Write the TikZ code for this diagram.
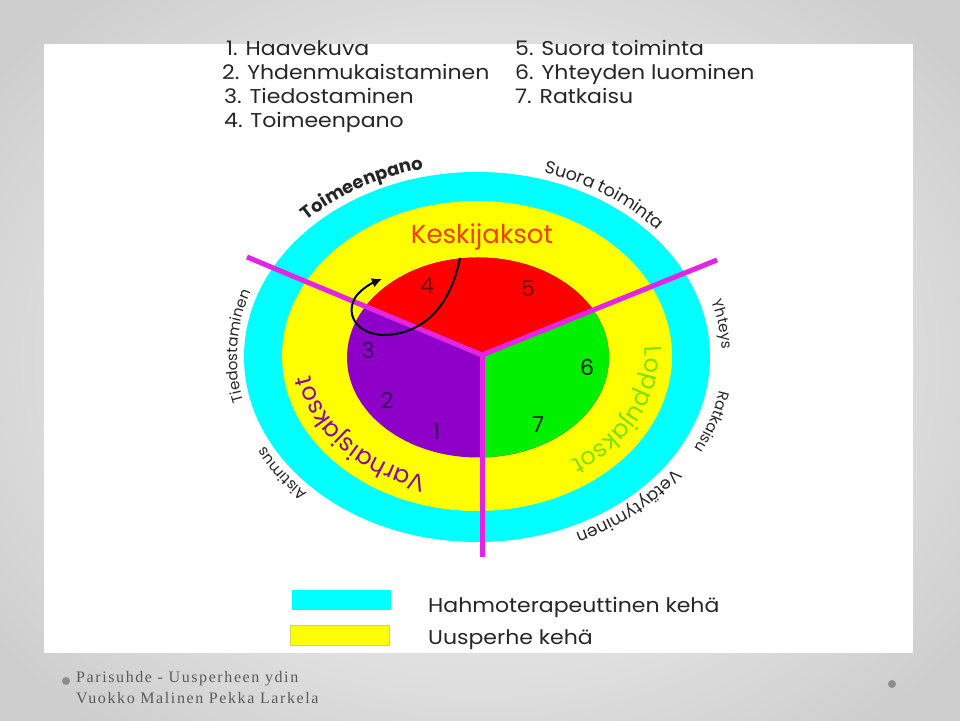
\documentclass[tikz,border=0pt]{standalone}
\usepackage{fontspec}
\setmainfont{Poppins}
\newfontfamily\widefont{Poppins}[FakeStretch=1.1]
\newfontfamily\footfont{Liberation Serif}[LetterSpace=10]
\usetikzlibrary{decorations.text,arrows.meta}
\definecolor{cy}{HTML}{00FFFF}
\definecolor{ye}{HTML}{FFFF00}
\definecolor{rd}{HTML}{FF0000}
\definecolor{pu}{HTML}{8E00C8}
\definecolor{gr}{HTML}{00F000}
\definecolor{mg}{HTML}{E424E4}
\definecolor{txt}{HTML}{262626}
\definecolor{kesk}{HTML}{F0400C}
\definecolor{varh}{HTML}{8A0A9A}
\definecolor{lopp}{HTML}{80E000}
\definecolor{bggray}{HTML}{CECECE}
\definecolor{foot}{HTML}{5A5A5A}
\definecolor{dotgray}{HTML}{8C8C8C}
\definecolor{numred}{HTML}{7A0808}
\definecolor{numpu}{HTML}{3A0A5A}
\definecolor{numgr}{HTML}{0A200A}
\begin{document}
\begin{tikzpicture}[x=1pt,y=1pt,
  listitem/.style={anchor=base west,inner sep=0pt,text=txt,font=\widefont\fontsize{20}{20}\selectfont},
  numlab/.style={inner sep=0pt,font=\fontsize{22}{22}\selectfont},
  spoke/.style={draw=mg,line width=5pt,line join=round},
  legbox/.style={minimum width=99pt,minimum height=20pt,inner sep=0pt,anchor=south west},
  legtext/.style={anchor=base west,inner sep=0pt,text=txt,font=\widefont\fontsize{20}{20}\selectfont},
  outerlab/.style 2 args={decorate,decoration={text along path,text align=center,text color=txt,
     text={|\fontsize{#1}{#1}\selectfont|#2}}},
  outerbold/.style 2 args={decorate,decoration={text along path,text align=center,text color=txt,
     text={|\bfseries\fontsize{#1}{#1}\selectfont|#2}}},
  innerlab/.style 2 args={decorate,decoration={text along path,text align=center,text color=#1,
     text={|\fontsize{24}{24}\selectfont|#2}}},
  footline/.style={anchor=base west,inner sep=0pt,text=foot,font=\footfont\fontsize{16}{16}\selectfont}
]
\useasboundingbox (0,0) rectangle (960,720);
% slide background
\shade[inner color=white,outer color=bggray] (-120,-120) rectangle (1080,840);
\fill[white] (44,67) rectangle (913,676);

% top list
\node[listitem] (l1) at (226,664) {1. Haavekuva};
\node[listitem] (l2) at (222,640) {2. Yhdenmukaistaminen};
\node[listitem] (l3) at (224,616) {3. Tiedostaminen};
\node[listitem] (l4) at (224,592) {4. Toimeenpano};
\node[listitem] (l5) at (515,664) {5. Suora toiminta};
\node[listitem] (l6) at (515,640) {6. Yhteyden luominen};
\node[listitem] (l7) at (515,616) {7. Ratkaisu};

% rings
\fill[cy] (477,363) ellipse [x radius=233, y radius=185];
\fill[ye] (477,364) ellipse [x radius=195, y radius=155];

\coordinate (S) at (482,365);
\coordinate (UL) at (247,463);
\coordinate (UR) at (717,460);
\coordinate (D) at (482,163);

\begin{scope}
  \clip (478,362.5) ellipse [x radius=131, y radius=100];
  \fill[pu] (330,250) rectangle (630,480);
  \fill[rd] (S) -- (UL) -- (247,620) -- (717,620) -- (UR) -- cycle;
  \fill[gr] (S) -- (UR) -- (717,163) -- (D) -- cycle;
\end{scope}

\draw[spoke] (UL) -- (S) -- (UR);
\draw[spoke] (S) -- (D);

% numbers
\node[numlab,text=numred] (n4) at (427,434) {4};
\node[numlab,text=numred] (n5) at (528,431) {5};
\node[numlab,text=numpu] (n3) at (368,370) {3};
\node[numlab,text=numpu] (n2) at (387,320) {2};
\node[numlab,text=numpu] (n1) at (437,288) {1};
\node[numlab,text=numgr] (n6) at (587,353) {6};
\node[numlab,text=numgr] (n7) at (538,295) {7};

% curved arrow
\coordinate (arrS) at (460,462);
\coordinate (arrE) at (382,441);
\draw[line width=2pt,-{Latex[length=10pt,width=10pt]}]
  (arrS) .. controls (450,410) and (420,386) .. (385,385)
  .. controls (355,385) and (344,408) .. (357,425)
  .. controls (363,432) and (372,437) .. (arrE);

% inner ring labels
\node[anchor=base,inner sep=0pt,text=kesk,font=\fontsize{26}{26}\selectfont] (kesk) at (482,476) {Keskijaksot};
\path[innerlab={varh}{Varhaisjaksot}] (477,363) ++(262:168pt and 125pt)
  arc[start angle=262,end angle=176,x radius=168,y radius=125];
\path[innerlab={lopp}{Loppujaksot}] (477,363) ++(22:168pt and 125pt)
  arc[start angle=22,end angle=-70,x radius=168,y radius=125];

% outer labels
\path[outerbold={18}{Toimeenpano}] (477,363) ++(152:240pt and 193pt)
  arc[start angle=152,end angle=88,x radius=240,y radius=193];
\path[outerlab={17.5}{Suora toiminta}] (477,363) ++(92:240pt and 192pt)
  arc[start angle=92,end angle=20,x radius=240,y radius=192];
\path[outerlab={15}{Yhteys}] (477,363) ++(35:245pt and 192pt)
  arc[start angle=35,end angle=-17,x radius=245,y radius=192];
\path[outerlab={15}{Ratkaisu}] (477,363) ++(12:246pt and 194pt)
  arc[start angle=12,end angle=-48,x radius=246,y radius=194];
\path[outerlab={17}{Vetäytyminen}] (477,363) ++(-13:242pt and 193pt)
  arc[start angle=-13,end angle=-85,x radius=242,y radius=193];
\path[outerlab={15}{Aistimus}] (477,363) ++(245:240pt and 192pt)
  arc[start angle=245,end angle=185,x radius=240,y radius=192];
\path[outerlab={15}{Tiedostaminen}] (477,363) ++(212:240pt and 192pt)
  arc[start angle=212,end angle=142,x radius=240,y radius=192];

% legend
\node[legbox,fill=cy] (lc) at (292,110) {};
\node[legbox,fill=ye,draw={rgb,255:red,220;green,210;blue,80},line width=0.6pt] (ly) at (290,74) {};
\node[legtext] (lct) at (428,108) {Hahmoterapeuttinen kehä};
\node[legtext] (lyt) at (428,76) {Uusperhe kehä};

% footer
\node[footline] (f1) at (76,38) {Parisuhde - Uusperheen ydin};
\node[footline] (f2) at (76,17) {Vuokko Malinen Pekka Larkela};
\fill[dotgray] (66,39) circle (4);
\fill[dotgray] (892,36) circle (4);
\end{tikzpicture}
\end{document}
